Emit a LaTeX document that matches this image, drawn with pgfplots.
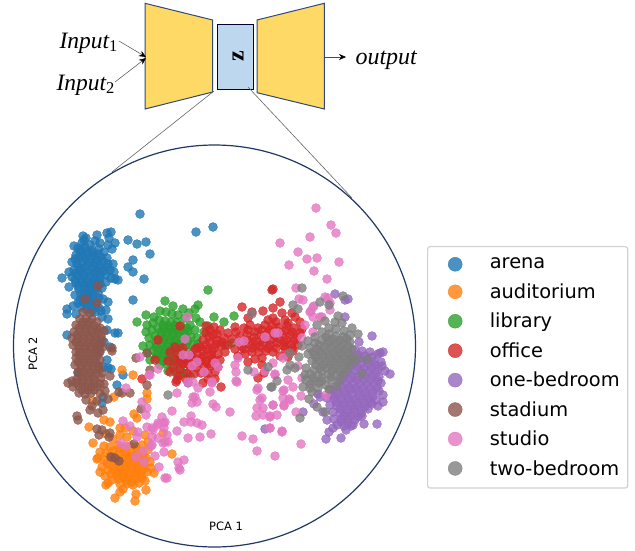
\documentclass[border=0pt]{standalone}
\usepackage{pgfplots}
\usepackage{fontspec}
\setmainfont{DejaVu Sans}
\newfontfamily\ser{Liberation Serif}
\pgfplotsset{compat=1.18}
\usetikzlibrary{arrows.meta}

\definecolor{tabblue}{HTML}{1F77B4}
\definecolor{taborange}{HTML}{FF7F0E}
\definecolor{tabgreen}{HTML}{2CA02C}
\definecolor{tabred}{HTML}{D62728}
\definecolor{tabpurple}{HTML}{9467BD}
\definecolor{tabbrown}{HTML}{8C564B}
\definecolor{tabpink}{HTML}{E377C2}
\definecolor{tabgray}{HTML}{7F7F7F}
\definecolor{netyellow}{HTML}{FFD966}
\definecolor{netblue}{HTML}{BDD7EE}
\definecolor{netedge}{HTML}{2F4A78}
\definecolor{ringcol}{HTML}{1F3864}

\pgfplotsset{
  dots/.style={only marks, mark=*, mark size=4.5pt, color=#1,
    mark options={draw=#1, fill=#1, line width=0.4pt, opacity=0.8}},
}

\begin{document}
\begin{tikzpicture}
\begin{axis}[
  scale only axis, width=635pt, height=550pt,
  xmin=0, xmax=635, ymin=0, ymax=550, y dir=reverse,
  hide axis, clip=false,
  legend style={at={(axis cs:427,246)}, anchor=north west, draw=black!18, line width=1.2pt,
    rounded corners=2.5pt, font=\fontsize{19.4}{20}\selectfont, fill=white, text=black,
    inner xsep=6pt, inner ysep=9.5pt, row sep=9.2pt},
  legend cell align=left,
  legend image code/.code={
    \draw[#1, mark size=7pt] plot coordinates {(21pt,0pt)};
    \path (0pt,0pt) (53pt,0pt);
  },
]
% network sketch
\draw[netedge, line width=1pt, fill=netyellow] (axis cs:145,3.3) -- (axis cs:212.7,20) -- (axis cs:212.7,92) -- (axis cs:145,109) -- cycle;
\draw[netedge, line width=1pt, fill=netyellow] (axis cs:257,20) -- (axis cs:324.3,3.3) -- (axis cs:324.3,109) -- (axis cs:257,92.7) -- cycle;
\draw[black!80!blue, line width=1pt, fill=netblue] (axis cs:217.3,24) rectangle (axis cs:253.3,89);
\node[rotate=90, font=\ser\bfseries\fontsize{24}{24}\selectfont] at (axis cs:238,56) {z};
\node[anchor=base west, font=\ser\itshape\fontsize{23.5}{23}\selectfont] at (axis cs:56,48) {Input\textsubscript{\upshape 1}};
\node[anchor=base west, font=\ser\itshape\fontsize{23.5}{23}\selectfont] at (axis cs:53,90) {Input\textsubscript{\upshape 2}};
\node[anchor=base west, font=\ser\itshape\fontsize{24}{24}\selectfont] at (axis cs:352,64) {output};
\draw[black!70, line width=0.5pt, -{Stealth[black, length=7pt, width=6pt]}] (axis cs:119,41) -- (axis cs:146,57);
\draw[black!70, line width=0.5pt, -{Stealth[black, length=7pt, width=6pt]}] (axis cs:115,82) -- (axis cs:146,58);
\draw[black!70, line width=0.5pt, -{Stealth[black, length=7pt, width=6pt]}] (axis cs:325,57) -- (axis cs:346,57);
\draw[black!60, line width=0.6pt] (axis cs:214,91) -- (axis cs:112,172);
\draw[black!60, line width=0.6pt] (axis cs:248,87) -- (axis cs:352,198);
\draw[ringcol, line width=1.2pt] (axis cs:214.5,346) circle [radius=201];
\node[font=\fontsize{11.5}{12}\selectfont, rotate=90] at (axis cs:33,354) {PCA 2};
\node[font=\fontsize{11.5}{12}\selectfont] at (axis cs:226,526) {PCA 1};

% arena
\addplot[dots=tabblue] coordinates {
(140,214)(196,232)(213,227)(128,240)(137,244)(146,242)(150,254)(133,260)(128,267)(133,272)(144,279)(133,300)
(83,236)(84,240)(86,238)(82,243)(90,245)(95,241)(97,235)(100,243)(107,233)(109,238)(111,232)(115,243)(108,245)(112,249)
(74,246)(78,248)(85,247)(92,250)(99,249)(104,252)(80,252)(76,255)(72,262)(75,259)(83,256)(88,254)(94,256)(101,257)
(107,258)(113,264)(108,264)(77,264)(82,262)(89,262)(95,263)(100,265)(74,270)(69,272)(80,270)(85,268)(92,269)(97,271)
(104,271)(110,270)(114,272)(62,278)(72,277)(78,276)(84,275)(90,276)(95,278)(100,277)(106,282)(111,278)(118,280)(115,279)
(69,287)(76,283)(82,282)(88,283)(94,284)(100,284)(79,289)(86,288)(91,290)(75,295)(81,294)(87,295)(92,295)(98,293)
(80,300)(90,301)(103,299)(108,302)(73,306)(67,309)(67,314)(76,314)(81,307)(86,305)(93,307)(99,308)(106,310)(102,317)
(108,319)(95,312)(101,311)(115,333)(118,333)(107,330)(67,335)(100,345)(110,347)(104,342)(99,352)(103,367)(111,369)
(107,360)(123,375)(117,385)(102,403)(103,397)(78,373)(108,368)
(81,250)(87,251)(93,253)(98,254)(79,258)(85,259)(91,259)(97,260)(103,261)(79,267)(87,265)(94,266)(101,268)(107,267)
(76,273)(82,272)(88,272)(94,273)(100,274)(106,275)(75,280)(81,279)(87,280)(93,281)(99,281)(78,286)(84,285)(90,286)(96,287)(102,288)
(84,292)(89,293)(95,290)(83,298)(88,298)(94,299)(99,298)(78,303)(84,302)(90,304)(96,304)(87,310)(92,311)
};
\addlegendentry{arena}
% auditorium
\addplot[dots=taborange] coordinates {
(122,370)(133,375)(147,393)(147,399)(114,397)(93,401)(134,414)(137,418)(104,420)(110,422)(89,427)(120,428)(93,443)(97,459)
(172,454)(154,473)(146,490)(136,494)(135,501)(115,498)(120,492)(123,489)(106,485)(100,472)(102,467)
(127,437)(120,435)(145,435)(148,442)(163,433)(113,439)(125,428)(133,431)(106,434)
(104,446)(110,447)(118,445)(124,448)(130,446)(136,447)(142,445)(100,452)(106,453)(113,451)(119,454)(125,452)(131,453)
(137,451)(143,454)(148,450)(98,458)(104,460)(110,465)(116,459)(122,458)(128,460)(134,458)(140,460)(146,458)(150,462)
(108,470)(114,467)(120,465)(126,467)(132,465)(138,466)(144,465)(151,468)(105,476)(111,474)(117,473)(123,472)(129,474)
(135,472)(141,473)(147,472)(112,480)(118,479)(124,478)(130,480)(136,479)(142,478)(108,483)(127,484)(133,485)(139,483)
(120,484)(145,481)
(110,456)(116,463)(122,462)(128,463)(134,462)(140,463)(107,463)(113,456)(119,449)(125,456)(131,456)(137,456)(143,457)
(126,470)(132,469)(138,470)(120,469)(114,471)(144,469)(129,477)(135,476)(141,476)(123,476)(117,476)(132,482)(126,481)
};
\addlegendentry{auditorium}
% library
\addplot[dots=tabgreen] coordinates {
(208,290)(165,301)(198,305)(146,315)(137,322)(214,317)(234,316)(195,309)(173,306)(183,309)(189,313)(154,317)
(160,311)(166,312)(172,314)(178,315)(185,318)(196,318)(147,325)(153,323)(159,320)(165,321)(171,322)(177,322)(190,325)
(200,322)(208,326)(224,322)(146,332)(152,330)(158,328)(164,328)(170,329)(176,329)(182,330)(188,331)(195,330)(204,332)
(149,338)(155,336)(161,335)(167,336)(173,335)(179,337)(185,338)(191,337)(197,338)(143,346)(150,345)(156,343)(162,342)
(168,343)(174,343)(180,344)(186,345)(192,345)(198,344)(225,345)(232,343)(147,353)(153,351)(159,350)(165,350)(171,350)
(177,351)(183,352)(189,352)(150,360)(156,358)(162,357)(168,357)(174,358)(180,359)(186,360)(160,365)(167,364)(174,365)
(181,366)(168,371)(176,372)(184,373)(190,376)(180,375)
(163,325)(169,326)(175,326)(181,326)(187,328)(161,332)(167,332)(173,332)(179,333)(185,334)(158,339)(164,339)(170,340)
(176,340)(182,341)(188,341)(156,347)(162,346)(168,347)(174,347)(180,348)(157,354)(163,354)(169,354)(175,355)(163,361)(170,361)(177,362)
};
\addlegendentry{library}
% office
\addplot[dots=tabred] coordinates {
(272,290)(242,307)(221,387)(177,380)(180,326)(158,340)(273,289)(280,302)(273,308)(282,313)(292,313)
(252,312)(263,311)(273,318)(285,320)(295,317)(300,322)(248,318)(235,327)(206,326)(214,327)(206,333)(213,335)(220,330)
(228,333)(236,332)(244,328)(250,325)(258,328)(265,325)(272,326)(279,327)(287,326)(294,328)(302,329)
(203,340)(210,342)(217,340)(224,338)(232,339)(240,336)(247,335)(254,337)(261,335)(268,333)(275,336)(282,334)(290,335)(297,337)
(200,347)(207,349)(214,348)(221,346)(228,345)(235,349)(242,347)(249,344)(256,345)(263,343)(270,345)(277,343)(284,342)(291,344)(298,345)
(195,349)(183,348)(175,347)(190,355)(197,354)(204,356)(211,355)(218,354)(225,352)(238,356)(245,354)(252,352)(259,352)(266,351)(273,352)(285,349)(293,351)
(170,352)(178,354)(185,357)(192,361)(199,362)(206,361)(213,360)(220,360)(248,362)(255,359)(262,358)(280,356)(288,357)
(168,361)(175,360)(183,364)(190,367)(197,368)(204,366)(211,366)(218,367)(262,365)(173,368)(180,370)(187,373)(194,374)(201,373)(208,373)(215,372)
(170,372)(178,376)(186,379)(208,379)(215,379)(258,378)(264,373)(155,360)(142,379)
(176,382)(203,383)
(210,330)(217,334)(209,337)(216,344)(206,345)(212,351)(203,351)(197,348)(194,358)(202,358)(208,364)(215,364)(188,364)(180,362)
(222,342)(239,341)(247,340)(255,341)(263,339)(271,340)(279,339)(287,340)(295,340)(244,349)(252,348)(260,347)(268,348)(276,348)(284,346)(292,348)
(262,330)(270,330)(277,331)(285,331)(292,332)(300,333)(255,332)(248,330)(276,322)(268,320)(288,323)(212,358)
};
\addlegendentry{office}
% one-bedroom
\addplot[dots=tabpurple] coordinates {
(372,336)(359,342)(390,374)(377,424)(341,438)(326,439)(329,432)(333,428)(364,424)(353,425)(383,395)(303,412)(380,353)
(335,294)(348,299)(345,300)(345,317)(265,429)(188,383)
(355,350)(362,351)(370,352)(378,354)(383,352)(352,358)(360,359)(367,360)(374,361)(381,362)(350,366)(357,367)(364,368)
(371,368)(378,369)(385,371)(344,374)(351,375)(358,376)(365,376)(372,376)(379,377)(339,382)(346,383)(353,383)(360,384)
(367,384)(374,384)(381,383)(330,390)(337,391)(344,391)(351,390)(358,391)(365,392)(372,392)(379,391)(320,397)(327,398)
(334,398)(341,399)(348,398)(355,399)(362,399)(369,399)(376,400)(383,402)(330,405)(337,406)(344,406)(351,405)(358,406)
(365,407)(372,404)(378,406)(323,412)(333,412)(340,413)(347,413)(354,412)(361,414)(368,409)(334,419)(341,419)(348,419)
(355,420)(362,416)(337,425)(344,426)(351,426)(318,394)(314,404)(327,420)(346,430)
(358,355)(365,356)(372,357)(354,363)(361,364)(368,364)(375,365)(382,366)(348,371)(355,371)(362,372)(369,372)(376,373)
(343,379)(350,379)(357,380)(364,380)(371,380)(378,381)(335,387)(342,387)(349,387)(356,388)(363,388)(370,388)(377,388)
(331,395)(338,395)(345,395)(352,395)(359,396)(366,396)(373,396)(336,402)(343,403)(350,402)(357,403)(364,403)(371,402)
(340,409)(347,410)(354,409)(361,410)(344,416)(351,416)(358,417)(341,422)(348,423)
};
\addlegendentry{one-bedroom}
% stadium
\addplot[dots=tabbrown] coordinates {
(98,286)(85,299)(97,303)(83,312)(90,313)(136,358)(147,353)(150,370)(147,385)(130,393)(122,393)(119,392)(108,399)(103,410)
(98,413)(90,410)(77,416)(78,420)(141,409)(97,429)(102,430)(99,435)(109,437)(110,433)(134,444)(111,457)(115,458)(119,461)
(80,319)(86,319)(92,319)(97,322)(76,325)(82,325)(88,325)(94,326)(100,328)(74,332)(80,332)(86,332)(92,332)(98,333)(104,331)
(72,338)(78,339)(84,339)(90,339)(96,340)(102,340)(73,345)(79,346)(85,346)(91,346)(97,346)(103,347)(76,352)(82,352)(88,352)
(94,353)(100,352)(112,348)(76,358)(82,359)(88,359)(94,359)(100,360)(112,351)(75,365)(81,365)(87,366)(93,366)(99,366)
(78,372)(84,372)(90,373)(96,373)(102,373)(68,383)(72,381)(77,379)(83,379)(89,380)(95,380)(101,378)(110,376)(104,384)
(73,387)(79,386)(85,387)(91,387)(97,387)(79,393)(85,394)(91,393)(100,393)(86,400)(97,401)(105,391)(92,406)
(83,322)(89,322)(79,328)(85,328)(91,329)(97,329)(77,335)(83,335)(89,336)(95,336)(101,336)(76,342)(82,342)(88,343)(94,343)(100,343)
(79,349)(85,349)(91,349)(97,350)(79,355)(85,356)(91,356)(97,356)(78,362)(84,362)(90,362)(96,363)(81,369)(87,369)(93,370)(99,370)
(81,376)(87,376)(93,377)(76,383)(82,383)(88,384)(94,384)(100,384)(82,390)(88,390)(94,390)
};
\addlegendentry{stadium}
% studio
\addplot[dots=tabpink] coordinates {
(316,208)(331,225)(336,233)(310,237)(280,243)(298,252)(307,259)(317,258)(289,265)(314,271)(339,262)(327,279)(296,288)(299,299)
(303,300)(325,297)(328,298)(330,303)(313,307)(311,311)(313,317)(322,317)(330,310)(314,306)(310,312)(320,317)(305,325)
(313,332)(302,338)(283,358)(298,366)(302,378)(288,380)(275,374)(293,387)(283,391)(289,399)(283,398)(301,396)(273,405)
(284,405)(296,412)(277,415)(270,417)(270,428)(282,432)(301,444)(275,456)(326,395)
(172,411)(177,393)(193,397)(192,403)(197,402)(213,404)(216,407)(230,412)(162,417)(164,423)(158,423)(184,422)(191,422)
(191,416)(197,423)(202,425)(177,431)(211,434)(200,437)(188,438)(167,435)(165,442)(152,428)(158,438)(152,445)(164,452)
(155,456)(178,462)(184,460)(159,467)(179,468)(242,436)(253,439)(257,451)(282,431)(270,428)(257,390)(262,398)(260,400)
(257,408)(256,416)(263,408)(263,415)(270,416)(273,405)(284,406)(290,400)(284,390)(237,382)(212,383)(210,392)
(126,388)(150,375)(140,357)(158,369)(183,355)(189,355)(192,366)(197,362)(204,372)(218,367)(215,363)(212,382)(188,382)
(193,382)(195,397)(142,402)(147,408)(146,415)(123,421)(130,426)(165,422)(158,425)(164,428)(147,427)(153,430)(138,432)
(137,437)(152,437)(168,442)(163,443)(121,443)(126,446)(151,446)(143,451)(136,457)(144,462)(165,478)(167,478)(180,470)
(187,317)(185,339)(149,375)(198,388)(239,342)(244,341)(265,337)(275,333)(278,333)(235,365)(238,358)(236,372)(236,381)
(254,372)(265,371)(273,363)(275,375)(258,388)
};
\addlegendentry{studio}
% two-bedroom
\addplot[dots=tabgray] coordinates {
(293,305)(298,309)(320,302)(329,305)(338,316)(325,321)(317,325)(302,346)(290,353)(299,357)(358,334)(352,328)(367,359)(362,374)
(290,365)(287,370)(295,368)(277,381)(272,387)(309,399)(303,387)(310,388)(317,407)(325,412)(300,418)(337,386)(329,389)
(302,288)(343,296)(252,314)(248,370)(268,367)(271,387)(168,395)
(335,322)(342,323)(329,328)(336,329)(344,331)(322,332)(329,334)(336,336)(343,337)(350,335)(315,337)(308,341)(315,343)
(322,340)(329,341)(336,343)(343,344)(350,342)(310,348)(317,349)(324,347)(331,348)(338,350)(345,350)(352,349)(308,354)
(315,355)(322,354)(329,355)(336,356)(343,356)(350,356)(357,358)(312,361)(319,361)(326,362)(333,362)(340,362)(347,362)
(354,362)(320,368)(327,368)(334,368)(341,369)(348,368)(306,368)(310,374)(318,375)(328,374)(336,375)(344,374)(306,380)
(314,381)(322,381)(331,380)(340,379)(318,388)(326,385)(305,375)
(326,337)(333,339)(340,340)(347,339)(319,345)(327,344)(334,346)(341,347)(348,346)(313,352)(320,351)(327,352)(334,353)(341,353)(348,353)
(316,358)(323,358)(330,359)(337,359)(344,359)(351,359)(316,365)(323,365)(330,365)(337,365)(344,365)(314,370)(322,371)(332,371)(340,372)
(313,378)(322,378)(331,377)(310,384)(319,383)(312,392)
};
\addlegendentry{two-bedroom}
\end{axis}
\pgfresetboundingbox
\path (0,0) rectangle (635pt,550pt);
\end{tikzpicture}
\end{document}
